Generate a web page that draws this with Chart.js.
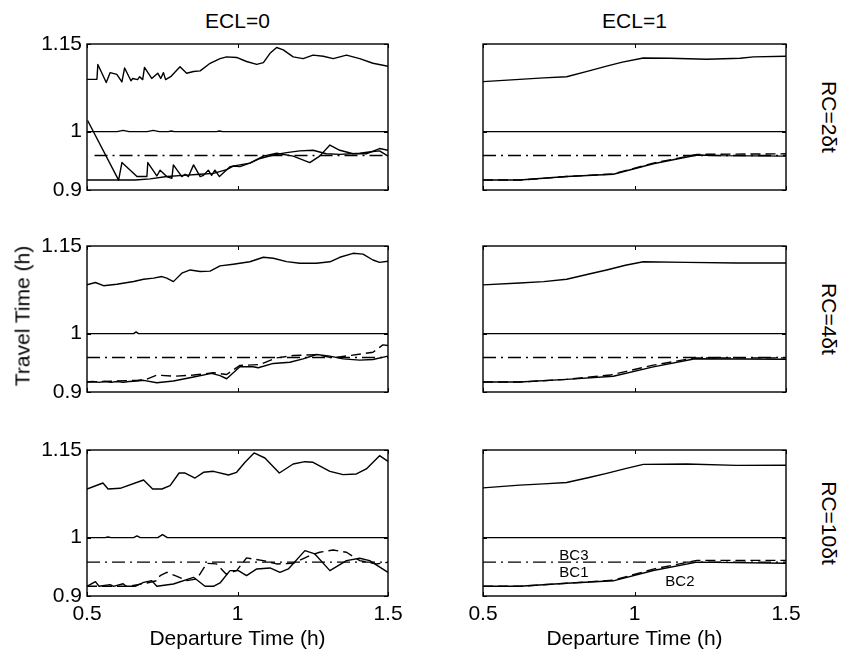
<!DOCTYPE html>
<html><head><meta charset="utf-8">
<script src="https://cdn.jsdelivr.net/npm/chart.js@4.4.1/dist/chart.umd.min.js"></script>
<style>
html,body{margin:0;padding:0;background:#fff;}
body{width:844px;height:654px;overflow:hidden;position:relative;font-family:"Liberation Sans",Arial,sans-serif;}
canvas{position:absolute;}
.t{position:absolute;font-size:21px;color:#000;white-space:nowrap;line-height:1;transform:translate(-50%,-50%);}
.rl{transform:translate(-50%,-50%) rotate(-90deg);}
.rr{transform:translate(-50%,-50%) rotate(90deg);}
</style></head><body>
<script>
// ---------- tick labels & texts ----------
const xTickVals = [0.5, 1, 1.5];
const yTickVals = [0.9, 1, 1.15];
const colTitles = ['ECL=0', 'ECL=1'];
const rowTitles = ['RC=2δt', 'RC=4δt', 'RC=10δt'];
const xTitle = 'Departure Time (h)';
const yTitle = 'Travel Time (h)';
const bcLabels = ['BC3', 'BC1', 'BC2'];
const bcLabelX = [0.8, 0.8, 1.15];
const bcLabelY = [0.969, 0.94, 0.924];

// ---------- ECL=0, RC=2δt ----------
const p00UpperX = [0.5,0.533,0.536,0.564,0.577,0.599,0.616,0.625,0.646,0.652,0.668,0.675,0.685,0.691,0.715,0.735,0.745,0.754,0.761,0.778,0.809,0.831,0.854,0.876,0.909,0.942,0.964,0.997,1.03,1.064,1.086,1.108,1.13,1.152,1.185,1.218,1.251,1.285,1.318,1.362,1.406,1.45,1.5];
const p00UpperY = [1.0895,1.0895,1.115,1.084,1.101,1.098,1.085,1.109,1.087,1.091,1.089,1.094,1.089,1.11,1.091,1.1,1.091,1.101,1.089,1.094,1.111,1.1,1.103,1.104,1.117,1.125,1.128,1.127,1.12,1.115,1.118,1.134,1.144,1.14,1.128,1.125,1.131,1.129,1.125,1.131,1.125,1.117,1.112];
const p00RefX = [0.5,0.6,0.62,0.64,0.7,0.72,0.74,0.77,0.78,0.79,0.93,0.94,0.95,1.5];
const p00RefY = [1,1,1.002,1,1,1.002,1,1,1.001,1,1,1.001,1,1];
const p00Bc3X = [0.525,1.5];
const p00Bc3Y = [0.959,0.959];
const p00Bc2X = [0.502,0.605,0.616,0.666,0.699,0.702,0.732,0.743,0.765,0.782,0.787,0.815,0.826,0.837,0.854,0.876,0.887,0.903,0.914,0.925,0.94,0.975,1.008,1.041,1.086,1.13,1.185,1.24,1.273,1.307,1.34,1.384,1.428,1.472,1.5];
const p00Bc2Y = [1.019,0.917,0.947,0.923,0.923,0.947,0.924,0.934,0.923,0.92,0.943,0.923,0.927,0.923,0.943,0.923,0.925,0.934,0.925,0.934,0.923,0.94,0.943,0.946,0.958,0.963,0.958,0.947,0.958,0.977,0.968,0.962,0.962,0.971,0.968];
const p00Bc1X = [0.5,0.605,0.66,0.71,0.765,0.82,0.876,0.92,0.964,0.986,1.008,1.041,1.075,1.119,1.163,1.207,1.251,1.295,1.34,1.406,1.45,1.472,1.5];
const p00Bc1Y = [0.917,0.917,0.917,0.919,0.923,0.925,0.927,0.9285,0.935,0.941,0.94,0.946,0.954,0.96,0.964,0.967,0.968,0.962,0.961,0.963,0.966,0.967,0.958];

// ---------- ECL=1, RC=2δt ----------
const p01UpperX = [0.5,0.621,0.7,0.776,0.85,0.908,0.96,1.029,1.117,1.239,1.349,1.393,1.5];
const p01UpperY = [1.0855,1.0895,1.092,1.094,1.104,1.112,1.119,1.126,1.1255,1.124,1.1255,1.128,1.129];
const p01RefX = [0.5,1.5];
const p01RefY = [1,1];
const p01Bc3X = [0.5,1.5];
const p01Bc3Y = [0.959,0.959];
const p01Bc2X = [0.5,0.621,0.776,0.93,1.062,1.206,1.5];
const p01Bc2Y = [0.917,0.917,0.923,0.9275,0.946,0.961,0.962];
const p01Bc1X = [0.5,0.621,0.776,0.93,1.062,1.206,1.283,1.5];
const p01Bc1Y = [0.917,0.917,0.923,0.927,0.945,0.96,0.9588,0.958];

// ---------- ECL=0, RC=4δt ----------
const p10UpperX = [0.5,0.528,0.555,0.599,0.655,0.688,0.721,0.749,0.765,0.787,0.815,0.843,0.876,0.909,0.942,0.986,1.041,1.086,1.119,1.163,1.207,1.262,1.307,1.34,1.384,1.417,1.45,1.472,1.5];
const p10UpperY = [1.0835,1.0875,1.082,1.0844,1.0892,1.093,1.0949,1.0977,1.095,1.089,1.1034,1.109,1.1063,1.107,1.1159,1.1188,1.123,1.1307,1.129,1.1233,1.1205,1.1205,1.123,1.1307,1.1375,1.136,1.126,1.122,1.124];
const p10RefX = [0.5,0.655,0.663,0.671,1.5];
const p10RefY = [1,1,1.003,1,1];
const p10Bc3X = [0.5,1.5];
const p10Bc3Y = [0.959,0.959];
const p10Bc2X = [0.5,0.666,0.699,0.732,0.787,0.854,0.92,0.964,1.008,1.075,1.13,1.185,1.262,1.318,1.373,1.45,1.483,1.5];
const p10Bc2Y = [0.917,0.9199,0.922,0.929,0.927,0.929,0.933,0.93,0.9455,0.947,0.9585,0.9625,0.964,0.9585,0.9625,0.968,0.9807,0.9795];
const p10Bc1X = [0.5,0.52,0.54,0.56,0.58,0.6,0.62,0.64,0.666,0.688,0.732,0.787,0.854,0.914,0.942,0.964,0.986,1.008,1.052,1.069,1.119,1.174,1.218,1.262,1.307,1.351,1.406,1.45,1.5];
const p10Bc1Y = [0.917,0.918,0.9165,0.918,0.9165,0.918,0.9165,0.918,0.9188,0.92,0.9159,0.9188,0.9256,0.9318,0.928,0.9227,0.933,0.9432,0.9432,0.9415,0.9489,0.951,0.9568,0.9642,0.9614,0.9568,0.9545,0.9557,0.9614];

// ---------- ECL=1, RC=4δt ----------
const p11UpperX = [0.5,0.621,0.7,0.776,0.85,0.908,0.97,1.029,1.172,1.337,1.5];
const p11UpperY = [1.0835,1.0866,1.089,1.093,1.102,1.109,1.117,1.123,1.122,1.121,1.121];
const p11RefX = [0.5,1.5];
const p11RefY = [1,1];
const p11Bc3X = [0.5,1.5];
const p11Bc3Y = [0.959,0.959];
const p11Bc2X = [0.5,0.621,0.776,0.92,1.062,1.2,1.5];
const p11Bc2Y = [0.917,0.917,0.9216,0.929,0.946,0.9585,0.9585];
const p11Bc1X = [0.5,0.621,0.776,0.93,1.062,1.2,1.5];
const p11Bc1Y = [0.917,0.917,0.9216,0.927,0.943,0.957,0.956];

// ---------- ECL=0, RC=10δt ----------
const p20UpperX = [0.5,0.553,0.57,0.61,0.688,0.718,0.749,0.776,0.806,0.826,0.859,0.887,0.92,0.97,0.997,1.025,1.055,1.091,1.139,1.185,1.224,1.251,1.307,1.351,1.395,1.428,1.472,1.5];
const p20UpperY = [1.0832,1.0935,1.0832,1.0844,1.0986,1.0832,1.0832,1.089,1.1106,1.1106,1.102,1.1118,1.1135,1.1072,1.1118,1.1289,1.1449,1.1363,1.1106,1.126,1.13,1.1289,1.1135,1.1078,1.109,1.1175,1.1403,1.1306];
const p20RefX = [0.5,0.56,0.57,0.58,0.655,0.666,0.677,0.735,0.751,0.767,1.5];
const p20RefY = [1,1,1.001,1,1,1.003,1,1,1.005,1,1];
const p20Bc3X = [0.5,1.5];
const p20Bc3Y = [0.958,0.958];
const p20Bc2X = [0.5,0.64,0.699,0.732,0.743,0.765,0.793,0.831,0.865,0.898,0.93,0.962,0.997,1.03,1.086,1.13,1.185,1.24,1.273,1.318,1.362,1.406,1.461,1.5];
const p20Bc2Y = [0.9166,0.9166,0.9223,0.9263,0.9349,0.9406,0.9349,0.9263,0.9292,0.956,0.955,0.9377,0.9434,0.9652,0.9606,0.9549,0.956,0.9692,0.9749,0.9788,0.9749,0.9606,0.9549,0.9577];
const p20Bc1X = [0.5,0.528,0.54,0.577,0.588,0.62,0.63,0.66,0.688,0.715,0.732,0.787,0.854,0.892,0.92,0.942,0.975,1.003,1.03,1.064,1.108,1.141,1.169,1.224,1.257,1.307,1.362,1.406,1.439,1.5];
const p20Bc1Y = [0.9166,0.9245,0.9166,0.9194,0.9166,0.921,0.9166,0.9166,0.9234,0.9263,0.9166,0.9206,0.932,0.9166,0.9166,0.9223,0.9434,0.9434,0.9349,0.9463,0.948,0.9406,0.9463,0.9777,0.972,0.9434,0.9606,0.9646,0.9606,0.9406];

// ---------- ECL=1, RC=10δt ----------
const p21UpperX = [0.5,0.621,0.7,0.776,0.85,0.908,0.97,1.029,1.172,1.337,1.5];
const p21UpperY = [1.0852,1.0898,1.092,1.0944,1.103,1.11,1.118,1.1253,1.126,1.1236,1.124];
const p21RefX = [0.5,1.5];
const p21RefY = [1,1];
const p21Bc3X = [0.5,1.5];
const p21Bc3Y = [0.958,0.958];
const p21Bc2X = [0.5,0.621,0.776,0.93,1.062,1.206,1.5];
const p21Bc2Y = [0.9166,0.9166,0.9218,0.927,0.946,0.961,0.961];
const p21Bc1X = [0.5,0.621,0.776,0.93,1.062,1.206,1.5];
const p21Bc1Y = [0.9166,0.9166,0.9218,0.926,0.9436,0.958,0.9562];

// ---------- layout (styles, not data) ----------
const FONT = '"Liberation Sans", Arial, sans-serif';
const LEFT = 70, TOP = 10, RIGHT = 20, BOTTOM = 35;
const colX = [87, 483], colW = [301, 303];
const rowY = [44, 246, 450], rowH = 146;
const DASH = [10, 5], DASHDOT = [13, 5, 2, 5];

const panels = [
  [
    {upper:[p00UpperX,p00UpperY], ref:[p00RefX,p00RefY], bc3:[p00Bc3X,p00Bc3Y], bc2:[p00Bc2X,p00Bc2Y], bc1:[p00Bc1X,p00Bc1Y], bc2Dash:[]},
    {upper:[p01UpperX,p01UpperY], ref:[p01RefX,p01RefY], bc3:[p01Bc3X,p01Bc3Y], bc2:[p01Bc2X,p01Bc2Y], bc1:[p01Bc1X,p01Bc1Y], bc2Dash:DASH}
  ],
  [
    {upper:[p10UpperX,p10UpperY], ref:[p10RefX,p10RefY], bc3:[p10Bc3X,p10Bc3Y], bc2:[p10Bc2X,p10Bc2Y], bc1:[p10Bc1X,p10Bc1Y], bc2Dash:DASH},
    {upper:[p11UpperX,p11UpperY], ref:[p11RefX,p11RefY], bc3:[p11Bc3X,p11Bc3Y], bc2:[p11Bc2X,p11Bc2Y], bc1:[p11Bc1X,p11Bc1Y], bc2Dash:DASH}
  ],
  [
    {upper:[p20UpperX,p20UpperY], ref:[p20RefX,p20RefY], bc3:[p20Bc3X,p20Bc3Y], bc2:[p20Bc2X,p20Bc2Y], bc1:[p20Bc1X,p20Bc1Y], bc2Dash:DASH},
    {upper:[p21UpperX,p21UpperY], ref:[p21RefX,p21RefY], bc3:[p21Bc3X,p21Bc3Y], bc2:[p21Bc2X,p21Bc2Y], bc1:[p21Bc1X,p21Bc1Y], bc2Dash:DASH, labels:true}
  ]
];

function series(pair, dash){
  const [xs, ys] = pair;
  return {
    data: xs.map((x, i) => ({x: x, y: ys[i]})),
    borderColor: '#000', borderWidth: 1.4, borderDash: dash,
    pointRadius: 0, fill: false, tension: 0, borderJoinStyle: 'round'
  };
}

const boxPlugin = {
  id: 'box',
  afterDatasetsDraw(chart, args, opts) {
    const {ctx, chartArea: a, scales: {x, y}} = chart;
    ctx.save();
    ctx.strokeStyle = '#000';
    ctx.lineWidth = 1.4;
    ctx.setLineDash([]);
    ctx.strokeRect(a.left, a.top, a.right - a.left, a.bottom - a.top);
    ctx.lineWidth = 1;
    ctx.beginPath();
    for (const v of xTickVals) {
      const px = Math.round(x.getPixelForValue(v)) + 0.5;
      ctx.moveTo(px, a.top); ctx.lineTo(px, a.top + 4);
      ctx.moveTo(px, a.bottom); ctx.lineTo(px, a.bottom - 4);
    }
    for (const v of yTickVals) {
      const py = Math.round(y.getPixelForValue(v)) + 0.5;
      ctx.moveTo(a.left, py); ctx.lineTo(a.left + 4, py);
      ctx.moveTo(a.right, py); ctx.lineTo(a.right - 4, py);
    }
    ctx.stroke();
    if (opts.labels) {
      ctx.fillStyle = '#000';
      ctx.font = '15px ' + FONT;
      ctx.textAlign = 'center';
      ctx.textBaseline = 'middle';
      bcLabels.forEach((t, i) => {
        ctx.fillText(t, x.getPixelForValue(bcLabelX[i]), y.getPixelForValue(bcLabelY[i]));
      });
    }
    ctx.restore();
  }
};

function addText(txt, cx, cy, cls) {
  const d = document.createElement('div');
  d.className = 't' + (cls ? ' ' + cls : '');
  d.textContent = txt;
  d.style.left = cx + 'px';
  d.style.top = cy + 'px';
  document.body.appendChild(d);
}

panels.forEach((row, r) => {
  row.forEach((p, c) => {
    const W = LEFT + colW[c] + RIGHT, H = TOP + rowH + BOTTOM;
    const cv = document.createElement('canvas');
    cv.width = W; cv.height = H;
    cv.style.left = (colX[c] - LEFT) + 'px';
    cv.style.top = (rowY[r] - TOP) + 'px';
    cv.style.width = W + 'px'; cv.style.height = H + 'px';
    document.body.appendChild(cv);
    new Chart(cv, {
      type: 'line',
      data: {
        datasets: [
          series(p.upper, []),
          series(p.ref, []),
          series(p.bc3, DASHDOT),
          series(p.bc2, p.bc2Dash),
          series(p.bc1, [])
        ]
      },
      options: {
        responsive: false, animation: false, devicePixelRatio: 1, events: [],
        layout: {padding: {top: TOP, right: RIGHT, left: 0, bottom: 0}},
        plugins: {legend: {display: false}, tooltip: {enabled: false}, box: {labels: !!p.labels}},
        scales: {
          x: {
            type: 'linear', min: 0.5, max: 1.5,
            grid: {display: false, drawTicks: false, tickLength: 0}, border: {display: false},
            afterBuildTicks: s => { s.ticks = xTickVals.map(v => ({value: v})); },
            afterFit: s => { s.height = BOTTOM; s.paddingLeft = 0; s.paddingRight = 0; },
            ticks: {display: r === 2, color: '#000', font: {family: FONT, size: 21}, padding: 6,
                    maxRotation: 0, autoSkip: false, callback: v => String(v)}
          },
          y: {
            type: 'linear', min: 0.9, max: 1.15,
            grid: {display: false, drawTicks: false, tickLength: 0}, border: {display: false},
            afterBuildTicks: s => { s.ticks = yTickVals.map(v => ({value: v})); },
            afterFit: s => { s.width = LEFT; s.paddingTop = 0; s.paddingBottom = 0; },
            ticks: {display: c === 0, color: '#000', font: {family: FONT, size: 21}, padding: 5,
                    autoSkip: false, callback: v => String(v)}
          }
        }
      },
      plugins: [boxPlugin]
    });
  });
});

colTitles.forEach((t, c) => addText(t, colX[c] + colW[c] / 2, 20));
rowTitles.forEach((t, r) => addText(t, 829, rowY[r] + rowH / 2, 'rr'));
addText(yTitle, 22, 316, 'rl');
colX.forEach((x0, c) => addText(xTitle, x0 + colW[c] / 2, 637));
</script>
</body></html>
